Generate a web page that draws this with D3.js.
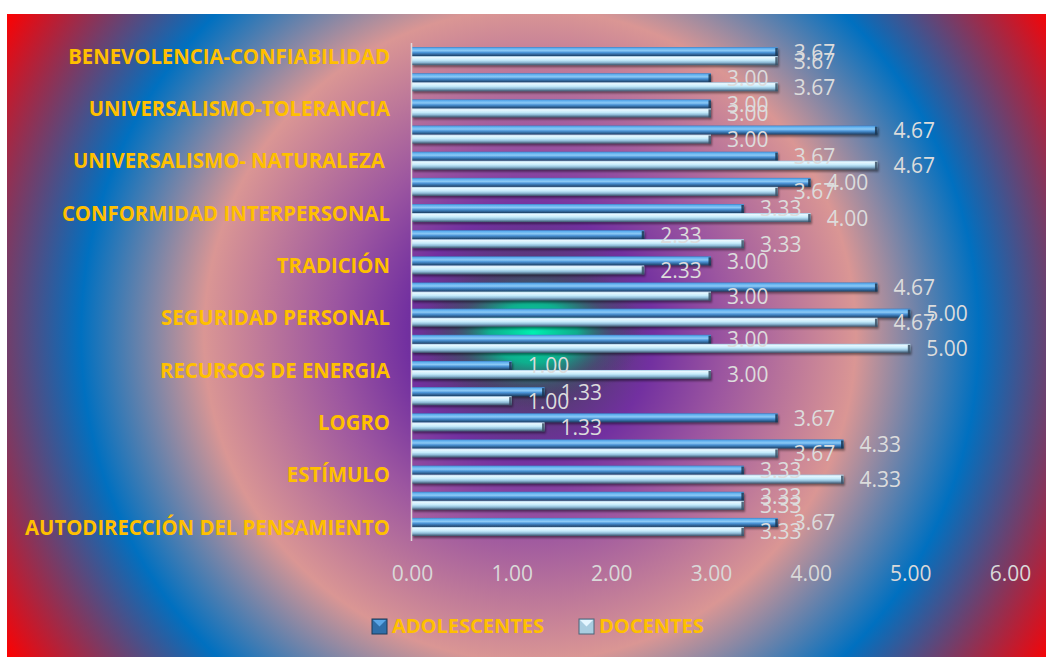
<!DOCTYPE html>
<html>
<head>
<meta charset="utf-8">
<script src="https://cdn.jsdelivr.net/npm/d3@7"></script>
<style>
  html, body { margin: 0; padding: 0; background: #ffffff; }
  svg { display: block; }
</style>
</head>
<body>
<svg id="chart" width="1046" height="657"></svg>
<script>
// ---- data (index 0 = bottom category) ----
const categories = [
  "AUTODIRECCIÓN DEL PENSAMIENTO",
  "AUTODIRECCIÓN DE LA ACCIÓN",
  "ESTÍMULO",
  "HEDONISMO",
  "LOGRO",
  "PODER-DOMINANCIA",
  "RECURSOS DE ENERGIA",
  "IMAGEN PÚBLICA",
  "SEGURIDAD PERSONAL",
  "SEGURIDAD SOCIAL",
  "TRADICIÓN",
  "CONFORMIDAD CON LAS REGLAS",
  "CONFORMIDAD INTERPERSONAL",
  "HUMILDAD",
  "UNIVERSALISMO- NATURALEZA ",
  "UNIVERSALISMO-COMPROMISO",
  "UNIVERSALISMO-TOLERANCIA",
  "BENEVOLENCIA-CUIDADO",
  "BENEVOLENCIA-CONFIABILIDAD"
];
const seriesNames = ["ADOLESCENTES", "DOCENTES"];
const adolescentes = [3.67, 3.33, 3.33, 4.33, 3.67, 1.33, 1.00, 3.00, 5.00, 4.67, 3.00, 2.33, 3.33, 4.00, 3.67, 4.67, 3.00, 3.00, 3.67];
const docentes     = [3.33, 3.33, 4.33, 3.67, 1.33, 1.00, 3.00, 5.00, 4.67, 3.00, 2.33, 3.33, 4.00, 3.67, 4.67, 3.00, 3.00, 3.67, 3.67];
const xTicks = [0, 1, 2, 3, 4, 5, 6];

// ---- setup ----
const svg = d3.select("#chart");
const W = 1046, H = 657;
const defs = svg.append("defs");

// background radial gradient
const bg = defs.append("radialGradient").attr("id", "bgGrad")
  .attr("gradientUnits", "userSpaceOnUse")
  .attr("cx", 530).attr("cy", 335).attr("r", 615)
  .attr("fx", 530).attr("fy", 335);
[
  [0.00, "#3a5866"],
  [0.10, "#533c70"],
  [0.20, "#7230a0"],
  [0.32, "#9c56a0"],
  [0.53, "#da9694"],
  [0.73, "#0070c0"],
  [1.00, "#ff0000"]
].forEach(([o, c]) => bg.append("stop").attr("offset", o).attr("stop-color", c));

const glow = defs.append("radialGradient").attr("id", "glowGrad");
glow.append("stop").attr("offset", 0).attr("stop-color", "#00f0b0").attr("stop-opacity", 1);
glow.append("stop").attr("offset", 0.4).attr("stop-color", "#00c896").attr("stop-opacity", 0.8);
glow.append("stop").attr("offset", 0.7).attr("stop-color", "#2a6a6a").attr("stop-opacity", 0.35);
glow.append("stop").attr("offset", 1).attr("stop-color", "#3a3a5a").attr("stop-opacity", 0);

// bar gradients
function vGrad(id, stops) {
  const g = defs.append("linearGradient").attr("id", id)
    .attr("x1", 0).attr("y1", 0).attr("x2", 0).attr("y2", 1);
  stops.forEach(([o, c]) => g.append("stop").attr("offset", o).attr("stop-color", c));
}
vGrad("gradA", [[0, "#3d7fc4"], [0.15, "#5fb0f0"], [0.4, "#8cc9f5"], [0.6, "#4c95d8"], [0.85, "#2d5f91"], [1, "#1c3d5e"]]);
vGrad("gradB", [[0, "#9cc6e2"], [0.15, "#e9f8ff"], [0.45, "#c5ebfb"], [0.7, "#8fbcd8"], [0.9, "#56748e"], [1, "#3e566b"]]);

const shadow = defs.append("filter").attr("id", "shadow")
  .attr("x", "-5%").attr("y", "-50%").attr("width", "110%").attr("height", "250%");
shadow.append("feDropShadow").attr("dx", 1).attr("dy", 2).attr("stdDeviation", 1.2)
  .attr("flood-color", "#000").attr("flood-opacity", 0.45);

// background
svg.append("rect").attr("x", 7).attr("y", 14).attr("width", W - 7).attr("height", H - 14)
  .attr("fill", "url(#bgGrad)");
svg.append("ellipse").attr("cx", 533).attr("cy", 333).attr("rx", 110).attr("ry", 75)
  .attr("fill", "url(#glowGrad)");

// ---- scales ----
const x = d3.scaleLinear().domain([0, 6]).range([412, 1010]);
const y = d3.scaleBand().domain(d3.range(categories.length))
  .range([540, 43]).paddingInner(0.31).paddingOuter(0.155);
const ys = d3.scaleBand().domain(seriesNames).range([0, y.bandwidth()]);

const seriesData = [adolescentes, docentes];
const grads = ["url(#gradA)", "url(#gradB)"];
const capCol = ["#1a3550", "#3a5064"];

// bars
seriesNames.forEach((s, si) => {
  const g = svg.append("g").attr("filter", "url(#shadow)");
  const vals = seriesData[si];
  g.selectAll("rect.bar").data(vals).join("rect")
    .attr("class", "bar")
    .attr("x", x(0))
    .attr("y", (d, i) => y(i) + ys(s))
    .attr("width", d => x(d) - x(0))
    .attr("height", ys.bandwidth())
    .attr("fill", grads[si]);
  g.selectAll("rect.cap").data(vals).join("rect")
    .attr("class", "cap")
    .attr("x", d => x(d) - 2.5)
    .attr("y", (d, i) => y(i) + ys(s) + 1)
    .attr("width", 2.5)
    .attr("height", ys.bandwidth() - 1)
    .attr("fill", capCol[si]).attr("opacity", 0.85);
});

// vertical axis line
svg.append("line")
  .attr("x1", x(0) - 0.5).attr("x2", x(0) - 0.5)
  .attr("y1", y.range()[1]).attr("y2", y.range()[0] + 1)
  .attr("stroke", "#e0dcdc").attr("stroke-width", 1.5);

// value labels
seriesNames.forEach((s, si) => {
  svg.append("g").selectAll("text").data(seriesData[si]).join("text")
    .attr("x", d => x(d) + 16)
    .attr("y", (d, i) => y(i) + ys(s) + ys.bandwidth() / 2)
    .attr("dy", "0.38em")
    .attr("font-family", "'Open Sans', sans-serif")
    .attr("font-size", 21)
    .attr("fill", "#dcdcdc")
    .text(d => d3.format(".2f")(d));
});

// x axis
const xAxis = svg.append("g").attr("transform", "translate(0,548)")
  .call(d3.axisBottom(x).tickValues(xTicks).tickSize(0).tickFormat(d3.format(".2f")));
xAxis.select(".domain").remove();
xAxis.selectAll("text")
  .attr("y", 33).attr("dy", 0)
  .attr("font-family", "'Open Sans', sans-serif")
  .attr("font-size", 21)
  .attr("fill", "#d9d9d9");

// category labels (Excel shows every other label)
const catG = svg.append("g");
const labels = catG.selectAll("g").data(categories.map((c, i) => ({ c, i })).filter(d => d.i % 2 === 0))
  .join("g")
  .attr("transform", d => `translate(390,${y(d.i) + y.bandwidth() / 2})`);
const labelTexts = labels.append("text")
  .attr("text-anchor", "end")
  .attr("dy", "0.36em")
  .attr("font-family", "'Open Sans', sans-serif")
  .attr("font-weight", "bold")
  .attr("font-size", 21.5)
  .attr("fill", "#ffc000")
  .style("white-space", "pre")
  .attr("xml:space", "preserve")
  .text(d => d.c);
// condense horizontally to approximate Calibri Bold widths
let maxW = 0;
labelTexts.each(function () { maxW = Math.max(maxW, this.getComputedTextLength()); });
const sx = 365 / maxW;
labelTexts.attr("transform", `scale(${sx},1)`);

// legend
const legendX = [372, 579];
const leg = svg.append("g");
seriesNames.forEach((s, si) => {
  const g = leg.append("g").attr("transform", `translate(${legendX[si]},619)`);
  g.append("rect").attr("width", 15).attr("height", 15)
    .attr("fill", si === 0 ? "#2f6ea8" : "#a9cde0")
    .attr("stroke", si === 0 ? "#1b3a58" : "#4a6478").attr("stroke-width", 1);
  g.append("path").attr("d", "M1,1 L14,1 L7.5,7.5 Z")
    .attr("fill", si === 0 ? "#5aa6e6" : "#e4f6ff");
  g.append("text").attr("x", 20).attr("y", 13.5)
    .attr("font-family", "'Open Sans', sans-serif")
    .attr("font-weight", "bold")
    .attr("font-size", 20)
    .attr("fill", "#ffc000")
    .text(s);
});
</script>
</body>
</html>
